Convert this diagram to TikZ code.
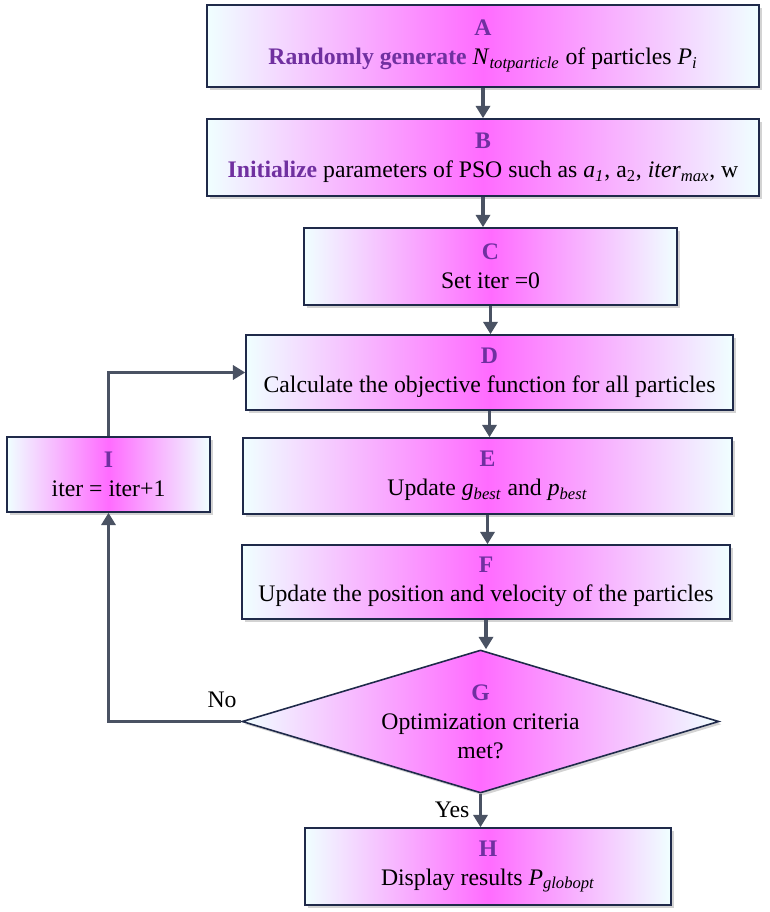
\documentclass[tikz,border=0pt]{standalone}
\usepackage{fontspec}
\setmainfont{Liberation Serif}
\usetikzlibrary{shapes.geometric,arrows.meta,shadows}

\definecolor{letterpurple}{HTML}{7030A0}
\definecolor{boxline}{HTML}{1F2A4A}
\definecolor{arrowgrey}{HTML}{4A5263}

\newcommand{\stepletter}[1]{\textcolor{letterpurple}{\textbf{#1}}}
\newcommand{\varsub}[2]{\textit{#1}\textsubscript{\textit{#2}}}

\tikzset{
  stepbox/.style={draw=boxline, line width=0.9pt, rectangle, align=center,
    left color=cyan!6!white, right color=cyan!6!white, middle color=magenta!58!white,
    drop shadow={opacity=0.35, shadow xshift=1.5pt, shadow yshift=-1.5pt},
    font=\fontsize{13.5}{16.5}\selectfont, inner sep=2pt},
  decision/.style={stepbox, diamond, aspect=3.3, inner sep=0pt},
  flow/.style={draw=arrowgrey, line width=2.2pt, -{Triangle[length=7pt,width=8pt]}},
  answer/.style={font=\fontsize{13.5}{16}\selectfont}
}

\begin{document}
\begin{tikzpicture}[x=0.02cm,y=-0.02cm]
  \useasboundingbox (0,0) rectangle (769,912);

  % main column
  \node[stepbox, minimum width=11.04cm, minimum height=1.64cm] (A) at (483,46)
    {\stepletter{A}\\ \stepletter{Randomly generate} \varsub{N}{totparticle} of particles \varsub{P}{i}};
  \node[stepbox, minimum width=11.04cm, minimum height=1.54cm] (B) at (483,157.5)
    {\stepletter{B}\\ \stepletter{Initialize} parameters of PSO such as \varsub{a}{1}, a\textsubscript{2}, \varsub{iter}{max}, w};
  \node[stepbox, minimum width=7.46cm, minimum height=1.54cm] (C) at (490.5,266.5)
    {\stepletter{C}\\ Set iter =0};
  \node[stepbox, minimum width=9.74cm, minimum height=1.5cm] (D) at (489.5,372.5)
    {\stepletter{D}\\ Calculate the objective function for all particles};
  \node[stepbox, minimum width=9.78cm, minimum height=1.52cm] (E) at (487.5,476)
    {\stepletter{E}\\ Update \varsub{g}{best} and \varsub{p}{best}};
  \node[stepbox, minimum width=9.76cm, minimum height=1.48cm] (F) at (486,582)
    {\stepletter{F}\\ Update the position and velocity of the particles};
  \node[decision, minimum width=9.54cm, minimum height=2.86cm] (G) at (480.5,721.5)
    {\stepletter{G}\\ Optimization criteria\\ met?};
  \node[stepbox, minimum width=7.32cm, minimum height=1.54cm] (H) at (488,866.5)
    {\stepletter{H}\\ Display results \varsub{P}{globopt}};

  % loop box
  \node[stepbox, minimum width=4.06cm, minimum height=1.5cm] (I) at (108.5,474.5)
    {\stepletter{I}\\ iter = iter+1};

  \foreach \a/\b in {A/B,B/C,C/D,D/E,E/F,F/G,G/H}
    \draw[flow] (\a.south) -- (\a.south |- \b.north);

  \draw[flow] (G.west) -| (I.south);
  \draw[flow] (I.north) |- (D.west);

  \node[answer] (no) at (222,700) {No};
  \node[answer] (yes) at (452,810) {Yes};
\end{tikzpicture}
\end{document}
